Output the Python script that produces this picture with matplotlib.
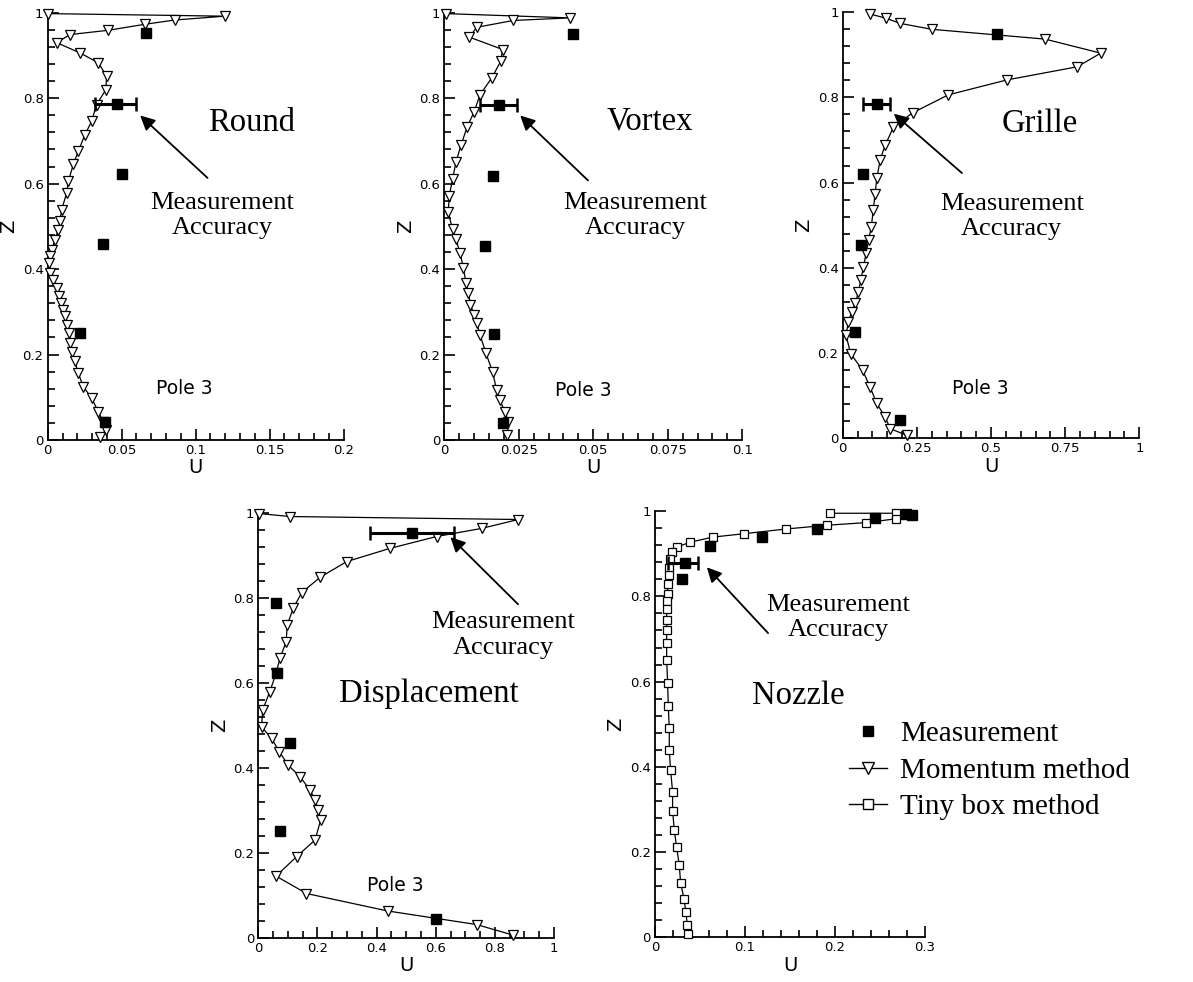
import matplotlib
matplotlib.use("Agg")
import matplotlib.pyplot as plt
from matplotlib.ticker import MultipleLocator, FuncFormatter
from matplotlib.lines import Line2D

# ---- Round (pole 3) ----
round_mom_u = [0.0005, 0.1196, 0.0858, 0.0656, 0.0409, 0.0151, 0.0061, 0.0218, 0.0342, 0.0398,
               0.0393, 0.0330, 0.0297, 0.0252, 0.0207, 0.0173, 0.0139, 0.0128, 0.0094, 0.0083,
               0.0072, 0.0049, 0.0027, 0.0016, 0.0011, 0.0016, 0.0038, 0.0061, 0.0079, 0.0090,
               0.0106, 0.0117, 0.0128, 0.0144, 0.0151, 0.0162, 0.0184, 0.0207, 0.0240, 0.0297,
               0.0342, 0.0375, 0.0393, 0.0353]
round_mom_z = [0.998, 0.992, 0.983, 0.973, 0.959, 0.949, 0.930, 0.906, 0.883, 0.852,
               0.820, 0.785, 0.746, 0.715, 0.676, 0.645, 0.605, 0.578, 0.539, 0.512,
               0.492, 0.469, 0.445, 0.430, 0.414, 0.391, 0.375, 0.355, 0.336, 0.320,
               0.305, 0.289, 0.270, 0.250, 0.227, 0.207, 0.184, 0.156, 0.125, 0.098,
               0.066, 0.043, 0.023, 0.008]
round_meas_u = [0.0667, 0.0465, 0.0503, 0.0375, 0.0218, 0.0387]
round_meas_z = [0.952, 0.787, 0.623, 0.459, 0.250, 0.043]
round_err = [0.0319, 0.0596]

# ---- Vortex ----
vortex_mom_u = [0.0006, 0.0422, 0.0232, 0.0109, 0.0084, 0.0196, 0.0189, 0.0159, 0.0120, 0.0100,
                0.0077, 0.0056, 0.0039, 0.0028, 0.0017, 0.0013, 0.0028, 0.0039, 0.0053, 0.0064,
                0.0073, 0.0081, 0.0088, 0.0100, 0.0109, 0.0120, 0.0140, 0.0162, 0.0176, 0.0187,
                0.0204, 0.0215, 0.0211]
vortex_mom_z = [0.998, 0.988, 0.982, 0.966, 0.943, 0.914, 0.886, 0.847, 0.808, 0.768,
                0.733, 0.690, 0.650, 0.611, 0.572, 0.533, 0.493, 0.470, 0.438, 0.403,
                0.368, 0.344, 0.317, 0.293, 0.273, 0.246, 0.203, 0.159, 0.116, 0.093,
                0.065, 0.042, 0.012]
vortex_meas_u = [0.0431, 0.0185, 0.0162, 0.0136, 0.0167, 0.0196]
vortex_meas_z = [0.951, 0.784, 0.619, 0.454, 0.247, 0.039]
vortex_err = [0.0120, 0.0245]

# ---- Grille ----
grille_mom_u = [0.092, 0.146, 0.193, 0.300, 0.682, 0.870, 0.791, 0.553, 0.356, 0.236,
                0.171, 0.143, 0.126, 0.115, 0.109, 0.103, 0.096, 0.087, 0.079, 0.070,
                0.061, 0.053, 0.042, 0.030, 0.019, 0.011, 0.027, 0.067, 0.092, 0.115,
                0.143, 0.160, 0.216]
grille_mom_z = [0.996, 0.986, 0.974, 0.960, 0.937, 0.904, 0.872, 0.841, 0.806, 0.764,
                0.730, 0.688, 0.653, 0.610, 0.574, 0.535, 0.495, 0.465, 0.435, 0.402,
                0.371, 0.343, 0.316, 0.296, 0.273, 0.241, 0.198, 0.159, 0.120, 0.081,
                0.049, 0.022, 0.006]
grille_meas_u = [0.521, 0.115, 0.067, 0.061, 0.042, 0.193]
grille_meas_z = [0.949, 0.784, 0.619, 0.453, 0.248, 0.042]
grille_err = [0.070, 0.160]

# ---- Displacement ----
disp_mom_u = [0.003, 0.107, 0.879, 0.755, 0.603, 0.445, 0.299, 0.209, 0.147, 0.118,
              0.098, 0.094, 0.073, 0.060, 0.039, 0.015, 0.011, 0.045, 0.071, 0.101,
              0.141, 0.175, 0.192, 0.203, 0.211, 0.192, 0.130, 0.060, 0.163, 0.437,
              0.738, 0.862]
disp_mom_z = [0.998, 0.991, 0.984, 0.963, 0.944, 0.916, 0.885, 0.848, 0.812, 0.775,
              0.736, 0.696, 0.657, 0.622, 0.579, 0.536, 0.496, 0.469, 0.438, 0.406,
              0.379, 0.347, 0.324, 0.300, 0.277, 0.230, 0.191, 0.145, 0.104, 0.063,
              0.031, 0.006]
disp_meas_u = [0.519, 0.060, 0.064, 0.107, 0.073, 0.601]
disp_meas_z = [0.953, 0.788, 0.624, 0.457, 0.252, 0.043]
disp_err = [0.378, 0.662]

# ---- Nozzle (tiny box method) ----
nozzle_box_u = [0.1944, 0.2678, 0.2852, 0.2678, 0.2344, 0.1915, 0.1452, 0.0989, 0.0641, 0.0389,
                0.0248, 0.0193, 0.0167, 0.0159, 0.0152, 0.0144, 0.0141, 0.0137, 0.0130, 0.0130,
                0.0130, 0.0130, 0.0130, 0.0141, 0.0148, 0.0159, 0.0159, 0.0174, 0.0196, 0.0196,
                0.0215, 0.0241, 0.0270, 0.0285, 0.0322, 0.0344, 0.0359, 0.0370]
nozzle_box_z = [0.995, 0.995, 0.990, 0.982, 0.973, 0.967, 0.958, 0.947, 0.939, 0.927,
                0.916, 0.904, 0.888, 0.867, 0.849, 0.828, 0.806, 0.789, 0.771, 0.744,
                0.720, 0.691, 0.650, 0.597, 0.542, 0.490, 0.439, 0.392, 0.341, 0.296,
                0.252, 0.211, 0.170, 0.128, 0.091, 0.059, 0.029, 0.008]
nozzle_meas_u = [0.286, 0.279, 0.244, 0.180, 0.1185, 0.0611, 0.0333, 0.0296]
nozzle_meas_z = [0.990, 0.994, 0.984, 0.958, 0.939, 0.918, 0.879, 0.841]
nozzle_err = [0.0148, 0.0481]

serif = "Liberation Serif"


def setup_axes(ax, xmax, xmajor, xminor):
    ax.set_xlim(0, xmax)
    ax.set_ylim(0, 1)
    ax.spines["top"].set_visible(False)
    ax.spines["right"].set_visible(False)
    ax.spines["left"].set_linewidth(1.3)
    ax.spines["bottom"].set_linewidth(1.3)
    ax.xaxis.set_major_locator(MultipleLocator(xmajor))
    ax.xaxis.set_minor_locator(MultipleLocator(xminor))
    ax.yaxis.set_major_locator(MultipleLocator(0.2))
    ax.yaxis.set_minor_locator(MultipleLocator(0.04))
    fmt = FuncFormatter(lambda v, _: "%g" % round(v, 4))
    ax.xaxis.set_major_formatter(fmt)
    ax.yaxis.set_major_formatter(fmt)
    ax.tick_params(which="major", direction="in", length=8, width=1.2, labelsize=9.5, pad=3)
    ax.tick_params(which="minor", direction="in", length=5, width=1.2)
    ax.set_xlabel("U", fontsize=14, labelpad=1)
    ax.set_ylabel("Z", fontsize=14, labelpad=3)


def plot_measure(ax, u, z, err, err_idx):
    ax.plot(u, z, "s", color="black", markersize=7.5, clip_on=False, zorder=4)
    uc = u[err_idx]
    ax.errorbar([uc], [z[err_idx]], xerr=[[uc - err[0]], [err[1] - uc]], fmt="none",
                ecolor="black", elinewidth=2.2, capsize=5, capthick=1.8, zorder=4)


def plot_momentum(ax, u, z):
    ax.plot(u, z, "-", color="black", lw=0.9, marker="v", markersize=7.5,
            markerfacecolor="white", markeredgecolor="black", markeredgewidth=0.9,
            clip_on=False, zorder=3)


def label_accuracy(ax, tip, tail, text_pos, size=19):
    ax.annotate("", xy=tip, xytext=tail,
                arrowprops=dict(arrowstyle="-|>", color="black", lw=1.3, mutation_scale=22))
    ax.text(text_pos[0], text_pos[1], "Measurement\nAccuracy", fontsize=size, family=serif,
            ha="center", va="center", linespacing=1.2)


fig = plt.figure(figsize=(11.93, 9.82), dpi=100)

ax1 = fig.add_axes([0.040, 0.552, 0.248, 0.435])
setup_axes(ax1, 0.2, 0.05, 0.01)
plot_momentum(ax1, round_mom_u, round_mom_z)
plot_measure(ax1, round_meas_u, round_meas_z, round_err, 1)
label_accuracy(ax1, (0.0611, 0.764), (0.1094, 0.609), (0.118, 0.525))
ax1.text(0.1375, 0.742, "Round", fontsize=23.5, family=serif, ha="center", va="center")
ax1.text(0.0926, 0.121, "Pole 3", fontsize=13.5, ha="center", va="center")

ax2 = fig.add_axes([0.3724, 0.552, 0.2498, 0.435])
setup_axes(ax2, 0.1, 0.025, 0.005)
plot_momentum(ax2, vortex_mom_u, vortex_mom_z)
plot_measure(ax2, vortex_meas_u, vortex_meas_z, vortex_err, 1)
label_accuracy(ax2, (0.0248, 0.764), (0.0489, 0.603), (0.064, 0.525))
ax2.text(0.069, 0.745, "Vortex", fontsize=23.5, family=serif, ha="center", va="center")
ax2.text(0.0466, 0.116, "Pole 3", fontsize=13.5, ha="center", va="center")

ax3 = fig.add_axes([0.7064, 0.554, 0.2486, 0.4335])
setup_axes(ax3, 1.0, 0.25, 0.05)
plot_momentum(ax3, grille_mom_u, grille_mom_z)
plot_measure(ax3, grille_meas_u, grille_meas_z, grille_err, 1)
label_accuracy(ax3, (0.165, 0.766), (0.409, 0.618), (0.570, 0.52))
ax3.text(0.665, 0.739, "Grille", fontsize=23.5, family=serif, ha="center", va="center")
ax3.text(0.463, 0.116, "Pole 3", fontsize=13.5, ha="center", va="center")

ax4 = fig.add_axes([0.2165, 0.0451, 0.2479, 0.4328])
setup_axes(ax4, 1.0, 0.2, 0.05)
plot_momentum(ax4, disp_mom_u, disp_mom_z)
plot_measure(ax4, disp_meas_u, disp_meas_z, disp_err, 0)
label_accuracy(ax4, (0.643, 0.947), (0.885, 0.780), (0.829, 0.712))
ax4.text(0.575, 0.575, "Displacement", fontsize=23.5, family=serif, ha="center", va="center")
ax4.text(0.462, 0.124, "Pole 3", fontsize=13.5, ha="center", va="center")

ax5 = fig.add_axes([0.549, 0.0455, 0.2263, 0.434])
setup_axes(ax5, 0.3, 0.1, 0.02)
ax5.plot(nozzle_box_u, nozzle_box_z, "-", color="black", lw=0.9, marker="s", markersize=5.5,
         markerfacecolor="white", markeredgecolor="black", markeredgewidth=0.9,
         clip_on=False, zorder=3)
plot_measure(ax5, nozzle_meas_u, nozzle_meas_z, nozzle_err, 6)
label_accuracy(ax5, (0.0556, 0.873), (0.1278, 0.709), (0.2037, 0.75))
ax5.text(0.159, 0.566, "Nozzle", fontsize=23.5, family=serif, ha="center", va="center")

handles = [
    Line2D([], [], ls="none", marker="s", color="black", markersize=7),
    Line2D([], [], color="black", lw=1, marker="v", markersize=8,
           markerfacecolor="white", markeredgecolor="black"),
    Line2D([], [], color="black", lw=1, marker="s", markersize=7,
           markerfacecolor="white", markeredgecolor="black"),
]
fig.legend(handles, ["Measurement", "Momentum method", "Tiny box method"],
           loc="upper left", bbox_to_anchor=(0.712, 0.266), frameon=False,
           prop={"family": serif, "size": 21}, handlelength=1.3, handletextpad=0.45,
           labelspacing=0.35, borderpad=0, borderaxespad=0)

fig.savefig("out.png", dpi=100)
